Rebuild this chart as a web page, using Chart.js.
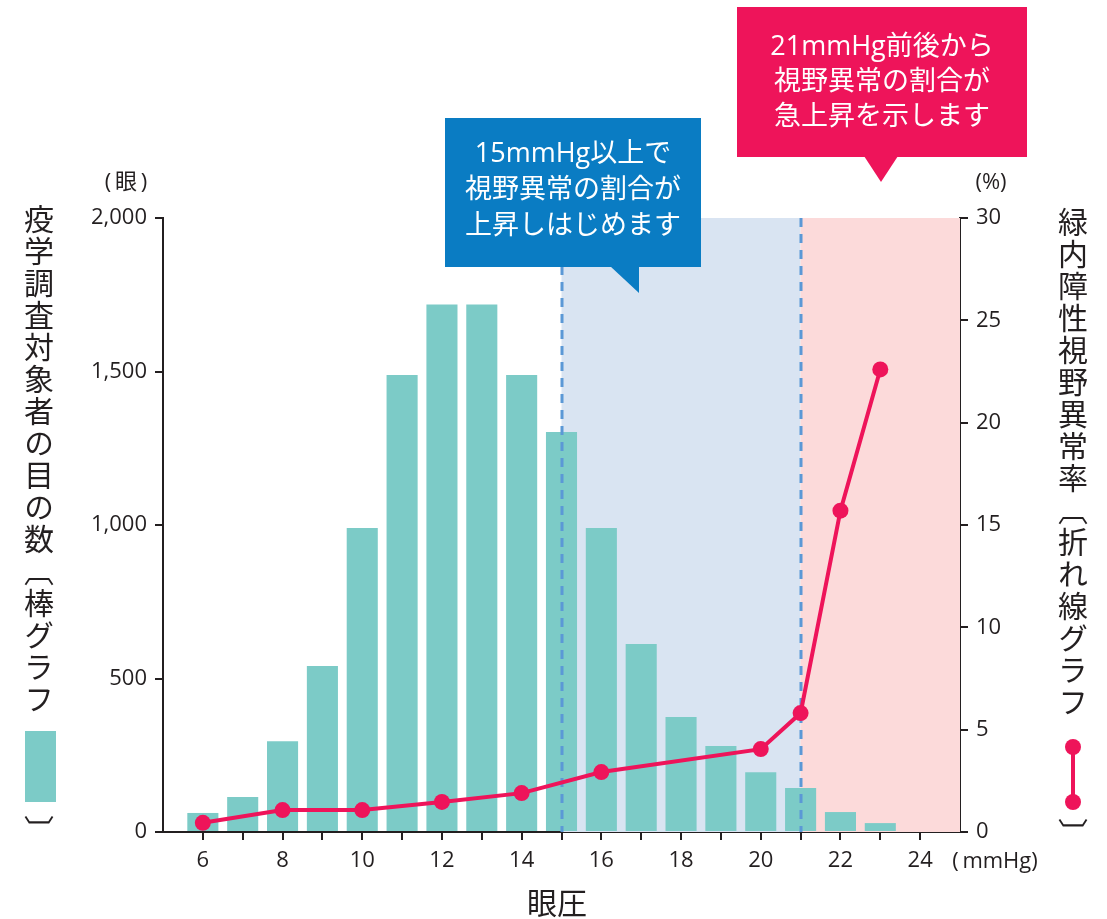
<!DOCTYPE html>
<html lang="ja">
<head>
<meta charset="utf-8">
<title>眼圧と緑内障性視野異常率</title>
<script src="https://cdn.jsdelivr.net/npm/chart.js@4.4.1/dist/chart.umd.min.js"></script>
<style>
  body { margin: 0; background: #fff; }
  #wrap { position: relative; width: 1107px; height: 919px; }
  #grafico { display: block; }
  .vt {
    position: absolute;
    writing-mode: vertical-rl;
    font-family: "Noto Sans CJK JP", sans-serif;
    font-size: 30px;
    line-height: 30px;
    letter-spacing: 2px;
    color: #231f20;
    white-space: nowrap;
  }
</style>
</head>
<body>
<div id="wrap">
  <canvas id="grafico" width="1107" height="919"></canvas>
  <div class="vt" style="left:24px;top:204px">疫学調査対象者の目の数〔棒グラフ</div>
  <div class="vt" style="left:24px;top:815px">〕</div>
  <div class="vt" style="left:1058px;top:207px">緑内障性視野異常率〔折れ線グラフ</div>
  <div class="vt" style="left:1058px;top:818px">〕</div>
</div>
<script>
// === DADOS ===
// 眼圧 (mmHg) de cada barra
const pressao = [6, 7, 8, 9, 10, 11, 12, 13, 14, 15, 16, 17, 18, 19, 20, 21, 22, 23];
// 疫学調査対象者の目の数 (眼)
const olhos = [62, 114, 296, 541, 990, 1489, 1718, 1718, 1489, 1303, 990, 612, 375, 280, 195, 143, 65, 29];
// 緑内障性視野異常率 (%)
const pressaoLinha = [6, 8, 10, 12, 14, 16, 20, 21, 22, 23];
const taxa = [0.45, 1.07, 1.07, 1.47, 1.9, 2.93, 4.05, 5.81, 15.7, 22.6];

// ticks dos eixos
const ticksX = [6, 7, 8, 9, 10, 11, 12, 13, 14, 15, 16, 17, 18, 19, 20, 21, 22, 23, 24];
const ticksOlhos = [0, 500, 1000, 1500, 2000];
const ticksTaxa = [0, 5, 10, 15, 20, 25, 30];

// faixas: 15 mmHg (começa a subir) e 21 mmHg (sobe rápido)
const limites = [15, 21, 25];

const TINTA = "#231f20";
const FONTE = "'Open Sans', 'Noto Sans CJK JP', sans-serif";
const JP = "'Noto Sans CJK JP', sans-serif";

function caixa(ctx, x, y, w, h, ponta, cor, linhas, cx, ys) {
  ctx.fillStyle = cor;
  ctx.fillRect(x, y, w, h);
  ctx.beginPath();
  ctx.moveTo(ponta[0][0], ponta[0][1]);
  ponta.slice(1).forEach((p) => ctx.lineTo(p[0], p[1]));
  ctx.closePath();
  ctx.fill();
  ctx.fillStyle = "#fff";
  ctx.font = "27px " + FONTE;
  ctx.textAlign = "center";
  ctx.textBaseline = "middle";
  linhas.forEach((t, i) => ctx.fillText(t, cx, ys[i]));
}

// === PLUGIN: fundos, tracejados, balões e rótulos ===
const extras = {
  id: "extras",
  beforeDatasetsDraw(chart) {
    const { ctx, chartArea: a, scales: { x } } = chart;
    const p = limites.map((v) => x.getPixelForValue(v));
    ctx.save();
    ctx.fillStyle = "#d9e4f2";
    ctx.fillRect(p[0], a.top, p[1] - p[0], a.bottom - a.top);
    ctx.fillStyle = "#fcdada";
    ctx.fillRect(p[1], a.top, p[2] - p[1], a.bottom - a.top);
    ctx.restore();
  },
  afterDatasetDraw(chart, args) {
    if (args.index !== 0) return;
    const { ctx, chartArea: a, scales: { x } } = chart;
    ctx.save();
    ctx.strokeStyle = "#5b98d6";
    ctx.lineWidth = 3;
    ctx.setLineDash([9, 7]);
    limites.slice(0, 2).forEach((v) => {
      const px = Math.round(x.getPixelForValue(v));
      ctx.beginPath();
      ctx.moveTo(px, a.top);
      ctx.lineTo(px, a.bottom);
      ctx.stroke();
    });
    ctx.restore();
  },
  afterDraw(chart) {
    const { ctx } = chart;
    ctx.save();
    // balões
    caixa(ctx, 445, 118, 256, 149, [[610, 266], [639, 266], [639, 293]], "#0a7cc3",
      ["15mmHg以上で", "視野異常の割合が", "上昇しはじめます"], 573, [154, 190, 226]);
    caixa(ctx, 737, 7, 290, 150, [[864, 156], [898, 156], [881, 182]], "#ee145a",
      ["21mmHg前後から", "視野異常の割合が", "急上昇を示します"], 882, [47, 82, 117]);

    // unidades
    ctx.fillStyle = TINTA;
    ctx.font = "22px " + FONTE;
    ctx.textAlign = "center";
    ctx.textBaseline = "middle";
    ctx.fillText("(\u2009眼\u2009)", 126, 183);
    ctx.fillText("(%)", 991, 183);
    ctx.fillText("(\u2009mmHg)", 995, 862);
    ctx.font = "30px " + JP;
    ctx.fillText("眼圧", 557, 903);

    // ícones das legendas verticais
    ctx.fillStyle = "#7ccbc7";
    ctx.fillRect(25, 731, 31, 71);
    ctx.strokeStyle = "#ee145a";
    ctx.fillStyle = "#ee145a";
    ctx.lineWidth = 4;
    ctx.beginPath();
    ctx.moveTo(1073, 747);
    ctx.lineTo(1073, 802);
    ctx.stroke();
    [747, 802].forEach((y) => {
      ctx.beginPath();
      ctx.arc(1073, y, 8, 0, Math.PI * 2);
      ctx.fill();
    });
    ctx.restore();
  },
};

const eixo = (ticks, cb) => ({
  afterBuildTicks: (s) => { s.ticks = ticks.map((v) => ({ value: v })); },
  grid: { offset: false, drawOnChartArea: false, drawTicks: true, tickLength: 8, color: TINTA, lineWidth: 2 },
  border: { display: true, color: TINTA, width: 2 },
  ticks: { color: TINTA, font: { family: FONTE, size: 22 }, padding: 8, autoSkip: false, maxRotation: 0, callback: cb },
});

new Chart(document.getElementById("grafico").getContext("2d"), {
  data: {
    datasets: [
      {
        type: "bar",
        label: "疫学調査対象者の目の数",
        data: olhos.map((v, i) => ({ x: pressao[i], y: v })),
        backgroundColor: "#7ccbc7",
        barPercentage: 0.78,
        categoryPercentage: 1,
        yAxisID: "y",
        order: 1,
      },
      {
        type: "line",
        label: "緑内障性視野異常率",
        data: taxa.map((v, i) => ({ x: pressaoLinha[i], y: v })),
        borderColor: "#ee145a",
        backgroundColor: "#ee145a",
        borderWidth: 4,
        pointRadius: 8,
        pointBorderWidth: 0,
        tension: 0,
        yAxisID: "y2",
        order: 0,
      },
    ],
  },
  options: {
    responsive: false,
    animation: false,
    layout: { padding: { top: 218, left: 0, right: 0, bottom: 0 } },
    plugins: { legend: { display: false }, tooltip: { enabled: false } },
    scales: {
      x: {
        type: "linear",
        min: 5,
        max: 25,
        offset: false,
        ...eixo(ticksX, (v) => (v % 2 === 0 ? v : "")),
        afterFit: (s) => { s.height = 87; },
      },
      y: {
        position: "left",
        min: 0,
        max: 2000,
        ...eixo(ticksOlhos, (v) => v.toLocaleString("en-US")),
        afterFit: (s) => { s.width = 163; },
      },
      y2: {
        position: "right",
        min: 0,
        max: 30,
        ...eixo(ticksTaxa, (v) => v),
        afterFit: (s) => { s.width = 147; },
      },
    },
  },
  plugins: [extras],
});
</script>
</body>
</html>
